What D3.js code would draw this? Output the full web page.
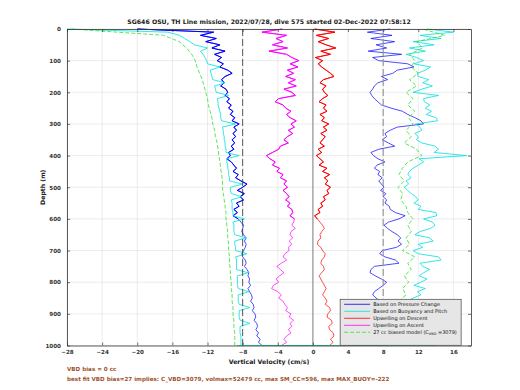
<!DOCTYPE html>
<html>
<head>
<meta charset="utf-8">
<script src="https://cdn.jsdelivr.net/npm/d3@7"></script>
<style>
  body { margin: 0; background: #fff; }
  text { font-family: "DejaVu Sans", sans-serif; }
</style>
</head>
<body>
<div id="chart"></div>
<script>

// depth bins (m) the profiles were averaged on
var depth10 = d3.range(0, 1001, 10);
var depth20 = d3.range(0, 1001, 20);

// Based on Pressure Change (cm/s), descent then ascent
var pressureDown = [-20,-11.3,-12.8,-11.0,-12.2,-10.6,-11.5,-10.0,-11.2,-10.4,-10.9,-10.2,-10.6,-9.7,-9.2,-10.0,-10.4,-10.1,-10.5,-9.9,
  -9.7,-10.0,-9.5,-9.8,-9.3,-9.6,-9.1,-9.4,-8.9,-9.2,-8.4,-9.0,-8.7,-9.1,-8.8,-9.2,-8.9,-9.3,-9.0,-9.6,
  -9.4,-9.8,-9.3,-9.0,-8.7,-9.1,-8.5,-8.8,-8.2,-7.5,-8.0,-8.6,-7.8,-8.3,-7.9,-8.7,-8.4,-9.0,-8.6,-9.1,
  -8.5,-8.2,-7.9,-8.0,-8.1,-7.9,-7.6,-7.8,-7.6,-7.7,-7.9,-8.1,-8.0,-7.7,-7.6,-7.8,-7.5,-7.3,-7.4,-7.2,
  -7.3,-7.1,-7.4,-7.2,-7.0,-6.9,-7.1,-6.8,-6.7,-6.9,-6.6,-6.5,-6.7,-6.4,-6.3,-6.5,-6.2,-6.4,-6.0,-6.2,-5.8];
var pressureUp = [8.8,6.2,9.0,6.6,9.3,7.2,8.4,6.3,10.1,6.8,7.5,10.8,11.5,9.6,9.1,7.8,8.5,7.4,7.0,6.8,
  6.5,6.7,7.0,7.4,7.8,8.9,10.2,10.8,11.6,12.3,12.6,9.6,8.8,8.2,8.4,7.9,8.6,9.3,7.5,6.6,
  6.9,7.4,8.2,7.3,7.0,7.6,7.4,7.9,7.5,7.8,8.1,7.7,8.3,8.0,8.4,8.2,8.7,8.8,9.4,10.5,
  9.8,8.6,8.1,8.5,9.0,9.6,10.0,9.7,10.1,9.5,7.9,7.6,8.2,9.4,9.8,7.0,6.6,6.5,7.1,7.8,
  8.4,8.0,7.5,7.0,6.8,7.2,7.6,7.0,7.8,8.5,9.0,8.2,7.7,8.3,8.8,8.1,8.6,9.2,7.4,8.0,9.0];

// Based on Buoyancy and Pitch (cm/s)
var buoyDown = [-28,-16.5,-15.2,-14.6,-14.0,-13.5,-12.0,-12.8,-12.5,-12.3,-12.1,-12.0,-10.6,-11.7,-11.6,-11.5,-11.4,-10.0,-11.2,-11.1,
  -11.0,-9.6,-10.9,-10.8,-10.8,-10.7,-10.6,-10.5,-10.5,-10.4,-8.8,-10.3,-10.2,-10.2,-10.1,-10.1,-10.0,-10.0,-9.9,-9.9,
  -8.4,-9.8,-9.8,-9.7,-9.7,-9.6,-9.6,-9.5,-9.5,-8.0,-9.4,-9.4,-9.3,-8.1,-9.3,-9.2,-9.2,-9.2,-9.1,-9.1,
  -7.8,-9.1,-9.0,-9.0,-9.0,-8.9,-7.6,-8.9,-8.9,-8.8,-8.8,-7.5,-8.8,-8.7,-8.7,-8.7,-8.7,-7.4,-8.6,-8.6,
  -8.6,-8.6,-8.5,-7.3,-8.5,-8.5,-8.5,-8.4,-7.2,-8.4,-8.4,-8.4,-8.3,-7.2,-8.3,-8.3,-8.3,-8.2,-8.2,-8.2,-8.2];
var buoyUp = [13.0,16.0,12.2,14.6,11.4,13.8,11.0,12.8,10.6,11.8,12.6,11.5,13.4,12.8,11.9,12.0,13.2,12.5,13.6,12.4,
  11.4,14.3,12.6,12.7,13.3,12.8,13.5,12.9,14.0,14.2,11.7,12.2,12.4,11.6,12.0,11.8,12.4,13.9,14.3,13.8,
  17.5,12.1,12.6,12.0,11.4,11.0,10.8,11.2,10.6,10.9,10.4,10.8,11.2,11.7,12.0,11.5,12.3,12.0,14.0,14.1,
  12.6,13.6,13.9,13.4,12.2,11.6,13.3,13.7,12.0,12.5,11.4,12.0,14.3,14.6,12.2,12.5,13.3,12.6,12.1,13.0,
  12.3,11.5,12.8,11.9,12.3,11.4,10.8,11.6,12.6,11.2,10.6,11.8,11.0,12.5,14.2,11.7,10.4,12.0,13.6,10.0,14.0];

// Upwelling on Descent / on Ascent (cm/s)
var upwellDown = [0.2,2.5,0.4,1.8,0.6,1.5,2.6,0.9,2.0,0.3,1.1,0.6,1.0,1.5,2.0,2.4,1.2,0.8,1.5,1.1,
  1.3,1.7,1.1,0.7,1.5,1.2,1.6,0.8,1.3,1.0,1.8,1.2,1.6,0.9,1.4,1.1,0.8,1.3,0.6,1.0,
  0.4,0.8,1.2,0.7,1.6,1.1,1.9,1.3,1.7,1.4,2.0,1.6,1.8,1.2,1.4,0.9,1.1,0.6,0.8,0.2,
  0.5,0.8,1.1,1.3,1.0,0.8,0.9,0.6,0.5,0.9,1.1,1.4,1.3,1.0,0.9,1.2,1.3,1.0,0.7,0.9,
  1.1,1.3,1.5,1.3,1.1,1.4,1.6,1.4,1.9,2.0,1.7,1.6,2.1,2.2,1.8,1.9,2.3,2.4,2.0,2.3,1.9];
var upwellUp = [-3.5,-5.8,-3.0,-4.2,-3.4,-4.6,-2.9,-5.0,-3.0,-2.4,-1.6,-2.6,-1.7,-2.9,-2.2,-3.1,-2.0,-2.8,-1.9,-3.3,
  -2.4,-2.0,-3.9,-4.3,-3.4,-3.1,-2.5,-3.0,-2.6,-1.9,-2.5,-2.1,-2.8,-2.3,-2.9,-3.3,-2.8,-3.7,-3.9,-4.6,
  -5.3,-4.9,-4.3,-4.6,-3.8,-4.1,-3.4,-3.7,-3.0,-3.3,-2.9,-3.4,-3.0,-2.7,-3.1,-2.6,-2.9,-2.4,-2.3,-2.6,
  -2.1,-2.2,-2.4,-2.0,-2.5,-2.6,-2.3,-2.7,-2.4,-2.8,-2.7,-3.2,-3.4,-3.0,-3.6,-4.1,-3.7,-3.3,-3.8,-4.2,
  -3.9,-4.5,-4.7,-4.0,-3.6,-3.9,-3.4,-3.2,-2.9,-3.1,-2.5,-2.7,-2.2,-2.6,-2.4,-2.8,-2.5,-3.0,-3.3,-3.0,-3.6];

// 27 cc biased model (cm/s), 20 m bins
var modelDown = [-27.5,-17.0,-15.2,-14.4,-13.8,-13.4,-13.2,-12.9,-12.6,-12.4,-12.2,-12.0,-11.9,-11.7,-11.5,-11.4,-11.2,-11.1,-10.9,-10.8,
  -10.7,-10.6,-10.5,-10.4,-10.3,-10.3,-10.2,-10.1,-10.0,-9.9,-9.9,-9.8,-9.7,-9.7,-9.6,-9.6,-9.5,-9.5,-9.4,-9.4,
  -9.3,-9.3,-9.2,-9.2,-9.1,-9.1,-9.0,-9.0,-8.9,-8.9,-8.9];
var modelUp = [12.5,15.0,11.8,12.5,11.0,11.6,11.2,12.0,11.0,11.8,10.6,11.4,10.8,11.6,10.9,11.4,10.6,11.2,10.4,11.8,
  12.4,10.8,10.2,9.8,10.4,9.7,10.2,10.0,10.6,10.8,11.4,10.8,11.2,10.6,11.0,10.2,11.6,10.8,11.2,10.4,
  10.9,10.2,10.6,9.8,10.4,9.6,10.2,10.8,9.8,10.4,10.6];

var xTicks = [-28, -24, -20, -16, -12, -8, -4, 0, 4, 8, 12, 16];
var yTicks = [0, 100, 200, 300, 400, 500, 600, 700, 800, 900, 1000];

var legendNames = ["Based on Pressure Change", "Based on Buoyancy and Pitch",
  "Upwelling on Descent", "Upwelling on Ascent", "27 cc biased model (C"];
var legendColors = ["#0000ff", "#00e0e0", "#ff0000", "#ff00ff", "#33dd33"];

var svgWidth = 520;
var svgHeight = 390;
var margin = { top: 29, right: 49, bottom: 44.5, left: 67 };
var chartWidth = svgWidth - margin.left - margin.right;
var chartHeight = svgHeight - margin.top - margin.bottom;

var svg = d3.select("#chart")
  .append("svg")
  .attr("width", svgWidth)
  .attr("height", svgHeight);

var chartGroup = svg.append("g")
  .attr("transform", `translate(${margin.left}, ${margin.top})`);

var xScale = d3.scaleLinear().domain([-28, 18]).range([0, chartWidth]);
var yScale = d3.scaleLinear().domain([0, 1000]).range([0, chartHeight]);

// grid
chartGroup.append("g")
  .selectAll("line.vg")
  .data(xTicks)
  .enter()
  .append("line")
  .attr("x1", d => xScale(d)).attr("x2", d => xScale(d))
  .attr("y1", 0).attr("y2", chartHeight)
  .attr("stroke", "#e4e4e4").attr("stroke-width", 0.7);
chartGroup.append("g")
  .selectAll("line.hg")
  .data(yTicks)
  .enter()
  .append("line")
  .attr("x1", 0).attr("x2", chartWidth)
  .attr("y1", d => yScale(d)).attr("y2", d => yScale(d))
  .attr("stroke", "#e4e4e4").attr("stroke-width", 0.7);

function pairs(depths, values) {
  return values.map((v, i) => [v, depths[i]]);
}

var line = d3.line()
  .x(d => xScale(d[0]))
  .y(d => yScale(d[1]));

function drawProfile(points, color, width, dash) {
  chartGroup.append("path")
    .datum(points)
    .attr("fill", "none")
    .attr("stroke", color)
    .attr("stroke-width", width)
    .attr("stroke-dasharray", dash || null)
    .attr("d", line);
}

// a dive profile: down leg then back up
function diveProfile(depths, down, up) {
  var p = pairs(depths, down);
  var q = pairs(depths, up).reverse();
  return p.concat(q);
}

// upper 600 m were sampled densely, so they look heavier
function upper(points) {
  return points.filter(d => d[1] <= 600);
}

var pressureDive = diveProfile(depth10, pressureDown, pressureUp);
drawProfile(pressureDive, legendColors[0], 0.7);
drawProfile(upper(pairs(depth10, pressureDown)), legendColors[0], 1.0);
drawProfile(diveProfile(depth10, buoyDown, buoyUp), legendColors[1], 0.8);
drawProfile(pairs(depth10, upwellDown), legendColors[2], 0.7);
drawProfile(upper(pairs(depth10, upwellDown)), legendColors[2], 1.0);
drawProfile(pairs(depth10, upwellUp), legendColors[3], 0.7);
drawProfile(upper(pairs(depth10, upwellUp)), legendColors[3], 1.0);
drawProfile(diveProfile(depth20, modelDown, modelUp), legendColors[4], 0.8, "4,2");

// reference lines
chartGroup.append("line")
  .attr("x1", xScale(-8)).attr("x2", xScale(-8))
  .attr("y1", 0).attr("y2", chartHeight)
  .attr("stroke", "#333").attr("stroke-width", 0.8)
  .attr("stroke-dasharray", "7,3");
chartGroup.append("line")
  .attr("x1", xScale(8)).attr("x2", xScale(8))
  .attr("y1", 0).attr("y2", chartHeight)
  .attr("stroke", "#999").attr("stroke-width", 1.2)
  .attr("stroke-dasharray", "7,3");
chartGroup.append("line")
  .attr("x1", xScale(0)).attr("x2", xScale(0))
  .attr("y1", 0).attr("y2", chartHeight)
  .attr("stroke", "#666").attr("stroke-width", 0.8);

// axes, ticks inward like matlab
var bottomAxis = d3.axisBottom(xScale).tickValues(xTicks).tickSizeInner(-3).tickSizeOuter(0).tickPadding(5);
var topAxis = d3.axisTop(xScale).tickValues(xTicks).tickSizeInner(-3).tickSizeOuter(0).tickFormat("");
var leftAxis = d3.axisLeft(yScale).tickValues(yTicks).tickSizeInner(-3).tickSizeOuter(0).tickPadding(6)
  .tickFormat(d3.format("d"));
var rightAxis = d3.axisRight(yScale).tickValues(yTicks).tickSizeInner(-3).tickSizeOuter(0).tickFormat("");

function styleAxis(g) {
  g.select(".domain").attr("stroke", "#333").attr("stroke-width", 0.8);
  g.selectAll(".tick line").attr("stroke", "#333").attr("stroke-width", 0.7);
  g.selectAll(".tick text")
    .attr("font-size", "5.6px")
    .attr("font-weight", "bold")
    .attr("fill", "#333")
    .style("font-family", "DejaVu Sans, sans-serif");
}

chartGroup.append("g").attr("transform", `translate(0, ${chartHeight})`).call(bottomAxis).call(styleAxis);
chartGroup.append("g").call(topAxis).call(styleAxis);
chartGroup.append("g").call(leftAxis).call(styleAxis);
chartGroup.append("g").attr("transform", `translate(${chartWidth}, 0)`).call(rightAxis).call(styleAxis);

// legend
var legend = chartGroup.append("g")
  .attr("transform", `translate(${xScale(3.1)}, ${yScale(854)})`);
legend.append("rect")
  .attr("width", 121).attr("height", 46)
  .attr("fill", "#e6e6e6").attr("stroke", "#444").attr("stroke-width", 0.7);
legendNames.forEach(function(name, i) {
  var row = legend.append("g").attr("transform", `translate(0, ${5 + i * 7})`);
  row.append("line")
    .attr("x1", 4).attr("x2", 30)
    .attr("stroke", legendColors[i]).attr("stroke-width", 0.8)
    .attr("stroke-dasharray", i == 4 ? "4,2" : null);
  var t = row.append("text")
    .attr("x", 33).attr("y", 1.8)
    .attr("font-size", "5px").attr("fill", "#111")
    .text(name);
  if (i == 4) {
    t.append("tspan").attr("font-size", "3.5px").attr("dy", 1.2).text("VBD");
    t.append("tspan").attr("dy", -1.2).text(" =3079)");
  }
});

// titles
svg.append("text")
  .attr("x", margin.left + chartWidth / 2).attr("y", 24)
  .attr("text-anchor", "middle")
  .attr("font-size", "6.2px").attr("font-weight", "bold").attr("fill", "#222")
  .text("SG646 OSU, TH Line mission, 2022/07/28, dive 575 started 02-Dec-2022 07:58:12");

svg.append("text")
  .attr("x", margin.left + chartWidth / 2).attr("y", 364)
  .attr("text-anchor", "middle")
  .attr("font-size", "6.2px").attr("font-weight", "bold").attr("fill", "#222")
  .text("Vertical Velocity (cm/s)");

svg.append("text")
  .attr("transform", `translate(45, ${margin.top + chartHeight / 2}) rotate(-90)`)
  .attr("text-anchor", "middle")
  .attr("font-size", "6.2px").attr("font-weight", "bold").attr("fill", "#222")
  .text("Depth (m)");

svg.append("text")
  .attr("x", margin.left).attr("y", 371)
  .attr("font-size", "5.6px").attr("font-weight", "bold").attr("fill", "#a0522d")
  .text("VBD bias = 0 cc");

svg.append("text")
  .attr("x", margin.left).attr("y", 381)
  .attr("font-size", "5.6px").attr("font-weight", "bold").attr("fill", "#a0522d")
  .text("best fit VBD bias=27 implies: C_VBD=3079, volmax=52479 cc, max SM_CC=596, max MAX_BUOY=-222");

</script>
</body>
</html>
